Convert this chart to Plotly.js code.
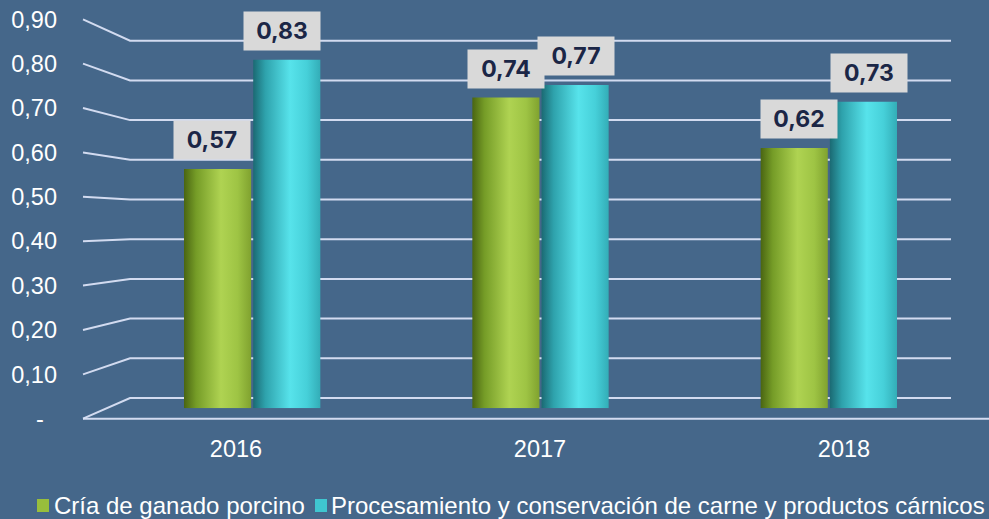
<!DOCTYPE html>
<html>
<head>
<meta charset="utf-8">
<script src="https://cdn.plot.ly/plotly-3.0.1.min.js"></script>
<style>
  html, body { margin: 0; padding: 0; background: #45678a; }
  #chart { width: 989px; height: 519px; }
</style>
</head>
<body>
<div id="chart"></div>
<script>
// ---- data ----
const years = ['2016', '2017', '2018'];
const seriesNames = ['Cría de ganado porcino', 'Procesamiento y conservación de carne y productos cárnicos'];
const criaValues = [0.57, 0.74, 0.62];
const procesamientoValues = [0.83, 0.77, 0.73];
const yTickVals = [0, 0.1, 0.2, 0.3, 0.4, 0.5, 0.6, 0.7, 0.8, 0.9];
const yTickText = ['-\u00a0\u00a0', '0,10', '0,20', '0,30', '0,40', '0,50', '0,60', '0,70', '0,80', '0,90'];

// ---- styling / geometry ----
const W = 989, H = 519;
const BG = '#45678a';
const GRID = 'rgba(218,226,246,0.95)';
const seriesColors = ['#98be3c', '#3fc6d0'];
const YMAX = 0.9;
const FRONT = { x: 83, y0: 418.7, y1: 19.3, xEnd: 989 };
const BACK = { x: 130, xEnd: 951, y0: 398, y1: 40.7 };
const BARPLANE = { y0: 408.3, y1: 30.3, x0: 108, x1: 973 };
const px = x => x / W;
const py = y => 1 - y / H;
const fmt = v => v.toFixed(2).replace('.', ',');

// perspective grid (diagonal from front plane to back wall, then along back wall)
const shapes = [];
yTickVals.forEach(v => {
  const yf = FRONT.y0 + (FRONT.y1 - FRONT.y0) * v / YMAX;
  const yb = BACK.y0 + (BACK.y1 - BACK.y0) * v / YMAX;
  shapes.push({
    type: 'path', xref: 'paper', yref: 'paper',
    path: `M ${px(FRONT.x)},${py(yf)} L ${px(BACK.x)},${py(yb)} L ${px(BACK.xEnd)},${py(yb)}`,
    line: { color: GRID, width: 2 }, layer: 'below'
  });
});
// floor front edge
shapes.push({
  type: 'line', xref: 'paper', yref: 'paper',
  x0: px(FRONT.x), x1: px(FRONT.xEnd), y0: py(FRONT.y0), y1: py(FRONT.y0),
  line: { color: GRID, width: 2 }, layer: 'below'
});

// legend (drawn manually to match spacing)
const legendPos = [{ sq: 37, tx: 52 }, { sq: 315, tx: 329 }];
const annotations = [];
seriesNames.forEach((name, i) => {
  shapes.push({
    type: 'rect', xref: 'paper', yref: 'paper',
    x0: px(legendPos[i].sq), x1: px(legendPos[i].sq + 12),
    y0: py(512), y1: py(499),
    fillcolor: seriesColors[i], line: { width: 0 }
  });
  annotations.push({
    xref: 'paper', yref: 'paper', x: px(legendPos[i].tx), y: py(505.5),
    xanchor: 'left', yanchor: 'middle', showarrow: false, text: name,
    font: { family: 'Liberation Sans, Arial, sans-serif', size: 24, color: '#ffffff' }
  });
});

// data labels (slight perspective spread toward the front plane)
const allSeries = [criaValues, procesamientoValues];
const offsets = [-35, 35];
allSeries.forEach((vals, s) => {
  vals.forEach((v, i) => {
    annotations.push({
      xref: 'x', yref: 'y', x: i, y: v, xshift: offsets[s] + (i - 1) * 5, yshift: 9,
      xanchor: 'center', yanchor: 'bottom', showarrow: false, text: '<b>' + fmt(v) + '</b>',
      bgcolor: '#d9d9d9', borderpad: 4, width: 68, height: 30,
      font: { family: 'Inter, Montserrat, Open Sans, sans-serif', size: 23, color: '#1b2646' }
    });
  });
});

const traces = [
  { type: 'bar', name: seriesNames[0], x: years, y: criaValues, marker: { color: seriesColors[0] }, hoverinfo: 'x+y' },
  { type: 'bar', name: seriesNames[1], x: years, y: procesamientoValues, marker: { color: seriesColors[1] }, hoverinfo: 'x+y' },
  // front-plane axes carriers (tick labels only)
  { type: 'scatter', mode: 'markers', x: [0], y: [null], xaxis: 'x2', yaxis: 'y3', showlegend: false, hoverinfo: 'skip' }
];

const layout = {
  width: W, height: H,
  margin: { l: 0, r: 0, t: 0, b: 0 },
  paper_bgcolor: BG, plot_bgcolor: 'rgba(0,0,0,0)',
  showlegend: false,
  barmode: 'group', bargap: 0.52, bargroupgap: 0.03,
  xaxis: {
    type: 'category', domain: [px(BARPLANE.x0), px(BARPLANE.x1)], range: [-0.5, 2.5],
    showticklabels: false, showgrid: false, zeroline: false, showline: false, fixedrange: true
  },
  yaxis: {
    domain: [py(BARPLANE.y0), py(BARPLANE.y1)], range: [0, YMAX],
    showticklabels: false, showgrid: false, zeroline: false, showline: false, fixedrange: true
  },
  xaxis2: {
    domain: [px(84), 1], range: [-0.5, 2.477], anchor: 'y3',
    tickvals: [0, 1, 2], ticktext: years, ticks: '', ticklabelstandoff: 14,
    tickfont: { family: 'Liberation Sans, Arial, sans-serif', size: 23.5, color: '#ffffff' },
    showgrid: false, zeroline: false, showline: false, fixedrange: true
  },
  yaxis3: {
    domain: [py(FRONT.y0), py(FRONT.y1)], range: [0, YMAX], anchor: 'x2',
    tickvals: yTickVals, ticktext: yTickText, ticks: '', ticklabelstandoff: 26,
    tickfont: { family: 'Liberation Sans, Arial, sans-serif', size: 23.5, color: '#ffffff' },
    showgrid: false, zeroline: false, showline: false, fixedrange: true
  },
  shapes: shapes,
  annotations: annotations
};

Plotly.newPlot('chart', traces, layout, { displayModeBar: false, staticPlot: true }).then(gd => {
  // cylinder-like horizontal shading for the bars
  const svg = gd.querySelector('.main-svg');
  const NS = 'http://www.w3.org/2000/svg';
  let defs = svg.querySelector('defs');
  if (!defs) { defs = document.createElementNS(NS, 'defs'); svg.insertBefore(defs, svg.firstChild); }
  const grads = [
    [['0', '#4a6512'], ['0.18', '#759c27'], ['0.55', '#afd352'], ['0.8', '#9ec444'], ['1', '#80a22f']],
    [['0', '#1b6a73'], ['0.18', '#2ea2ac'], ['0.55', '#57e3eb'], ['0.8', '#46d0d9'], ['1', '#33adb7']]
  ];
  grads.forEach((stops, i) => {
    const g = document.createElementNS(NS, 'linearGradient');
    g.setAttribute('id', 'cyl' + i);
    g.setAttribute('x1', '0'); g.setAttribute('x2', '1'); g.setAttribute('y1', '0'); g.setAttribute('y2', '0');
    stops.forEach(([o, c]) => {
      const s = document.createElementNS(NS, 'stop');
      s.setAttribute('offset', o); s.setAttribute('stop-color', c);
      g.appendChild(s);
    });
    defs.appendChild(g);
  });
  gd.querySelectorAll('.barlayer .trace').forEach((tr, i) => {
    tr.querySelectorAll('path').forEach(p => { p.style.fill = `url(#cyl${i})`; });
  });
});
</script>
</body>
</html>
